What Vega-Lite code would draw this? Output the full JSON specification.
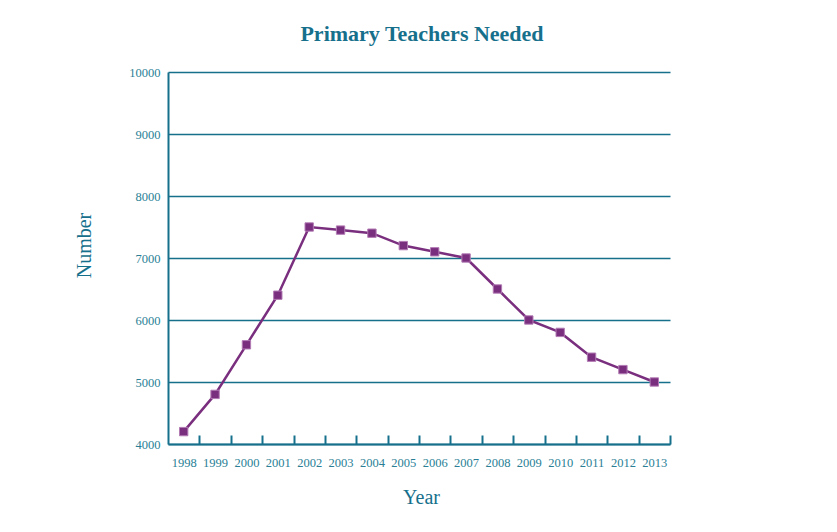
{
  "$schema": "https://vega.github.io/schema/vega-lite/v6.json",
  "width": 502,
  "height": 372,
  "autosize": {"type": "none"},
  "padding": {"left": 168, "top": 72, "right": 167, "bottom": 88},
  "background": "white",
  "title": {
    "text": "Primary Teachers Needed",
    "font": "Liberation Serif",
    "fontSize": 22,
    "fontWeight": "bold",
    "color": "#16708c",
    "anchor": "middle",
    "offset": 20,
    "dx": 3
  },
  "config": {
    "view": {"stroke": null},
    "axis": {
      "labelFont": "Liberation Serif",
      "titleFont": "Liberation Serif",
      "labelColor": "#2a7f96",
      "titleColor": "#16708c",
      "domainColor": "#16708c",
      "tickColor": "#16708c",
      "gridColor": "#16708c",
      "titleFontWeight": "normal"
    }
  },
  "data": {
    "values": [
      {"year": 1998, "number": 4200},
      {"year": 1999, "number": 4800},
      {"year": 2000, "number": 5600},
      {"year": 2001, "number": 6400},
      {"year": 2002, "number": 7500},
      {"year": 2003, "number": 7450},
      {"year": 2004, "number": 7400},
      {"year": 2005, "number": 7200},
      {"year": 2006, "number": 7100},
      {"year": 2007, "number": 7000},
      {"year": 2008, "number": 6500},
      {"year": 2009, "number": 6000},
      {"year": 2010, "number": 5800},
      {"year": 2011, "number": 5400},
      {"year": 2012, "number": 5200},
      {"year": 2013, "number": 5000}
    ]
  },
  "mark": {
    "type": "line",
    "color": "#7a2e7e",
    "strokeWidth": 2.5,
    "point": {"shape": "square", "size": 70, "filled": true, "fill": "#7a2e7e", "stroke": "#b27bb4", "strokeWidth": 1, "opacity": 1}
  },
  "encoding": {
    "x": {
      "field": "year",
      "type": "quantitative",
      "scale": {"domain": [1997.5, 2013.5], "nice": false, "zero": false},
      "axis": {
        "title": "Year",
        "values": [1998, 1999, 2000, 2001, 2002, 2003, 2004, 2005, 2006, 2007, 2008, 2009, 2010, 2011, 2012, 2013],
        "format": "d",
        "grid": false,
        "tickOffset": 15.69,
        "labelOffset": -15.69,
        "tickSize": -9,
        "tickWidth": 2,
        "domainWidth": 2,
        "labelFontSize": 12.5,
        "labelPadding": 21,
        "labelFlush": false,
        "labelOverlap": false,
        "titleFontSize": 20,
        "titlePadding": 19,
        "titleX": 253
      }
    },
    "y": {
      "field": "number",
      "type": "quantitative",
      "scale": {"domain": [4000, 10000], "nice": false, "zero": false},
      "axis": {
        "title": "Number",
        "values": [4000, 5000, 6000, 7000, 8000, 9000, 10000],
        "format": "d",
        "ticks": false,
        "grid": true,
        "gridWidth": 1.3,
        "domainWidth": 2,
        "labelFontSize": 12.5,
        "labelPadding": 8,
        "titleFontSize": 20,
        "titlePadding": 34,
        "titleY": 173
      }
    }
  }
}
